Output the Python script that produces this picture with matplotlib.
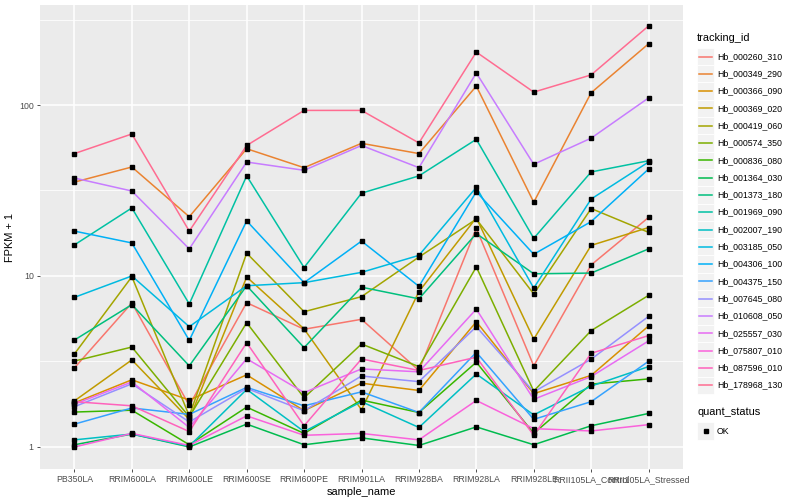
import matplotlib
matplotlib.use("Agg")
import matplotlib.pyplot as plt
from matplotlib.patches import Rectangle
from matplotlib.lines import Line2D
import numpy as np

plt.rcParams['font.family'] = ['Liberation Sans', 'DejaVu Sans']

samples = ["PB350LA", "RRIM600LA", "RRIM600LE", "RRIM600SE", "RRIM600PE", "RRIM901LA",
           "RRIM928BA", "RRIM928LA", "RRIM928LE", "RRII105LA_Control", "RRII105LA_Stressed"]

tracking_ids = ["Hb_000260_310", "Hb_000349_290", "Hb_000366_090", "Hb_000369_020",
                "Hb_000419_060", "Hb_000574_350", "Hb_000836_080", "Hb_001364_030",
                "Hb_001373_180", "Hb_001969_090", "Hb_002007_190", "Hb_003185_050",
                "Hb_004306_100", "Hb_004375_150", "Hb_007645_080", "Hb_010608_050",
                "Hb_025557_030", "Hb_075807_010", "Hb_087596_010", "Hb_178968_130"]

s000260_310 = [2.9, 6.95, 1.75, 6.98, 4.88, 5.58, 2.8, 19.0, 2.98, 11.6, 22.0]
s000349_290 = [35.4, 43.4, 22.2, 55.5, 43.0, 59.7, 52.0, 129, 27.0, 118, 228]
s000366_090 = [1.81, 2.47, 1.88, 2.64, 1.63, 2.36, 2.14, 5.4, 2.05, 2.62, 5.1]
s000369_020 = [1.86, 3.23, 1.45, 9.86, 4.9, 1.65, 8.1, 21.9, 4.27, 15.1, 19.2]
s000419_060 = [3.5, 9.9, 1.52, 13.6, 6.18, 7.57, 12.9, 21.5, 7.85, 24.8, 18.0]
s000574_350 = [3.18, 3.84, 1.5, 5.33, 1.94, 4.0, 2.95, 11.3, 2.12, 4.79, 7.7]
s000836_080 = [1.6, 1.64, 1.03, 1.71, 1.2, 1.88, 1.59, 3.13, 1.2, 2.33, 2.5]
s001364_030 = [1.03, 1.19, 1.0, 1.36, 1.03, 1.13, 1.02, 1.31, 1.03, 1.33, 1.57]
s001373_180 = [4.22, 6.8, 2.98, 8.77, 3.81, 8.6, 7.35, 17.7, 10.3, 10.4, 14.4]
s001969_090 = [15.2, 25.0, 6.86, 38.5, 11.2, 30.5, 38.5, 63, 16.6, 40.6, 47.2]
s002007_190 = [1.1, 1.19, 1.01, 2.17, 1.23, 1.84, 1.3, 2.67, 1.54, 2.27, 2.95]
s003185_050 = [7.5, 10.0, 5.05, 8.77, 9.14, 10.5, 13.2, 33.0, 8.5, 28.2, 46.4]
s004306_100 = [18.3, 15.6, 4.2, 21.0, 9.14, 16.0, 8.7, 31.1, 13.4, 20.8, 42.2]
s004375_150 = [1.36, 1.69, 1.55, 2.23, 1.74, 2.1, 1.59, 3.58, 1.45, 1.84, 3.17]
s007645_080 = [1.72, 2.34, 1.4, 2.2, 1.63, 2.6, 2.41, 5.05, 2.1, 3.26, 5.8]
s010608_050 = [37.4, 31.4, 14.4, 46.4, 41.5, 58.0, 43.0, 154, 45.0, 64, 110]
s025557_030 = [1.78, 2.4, 1.3, 3.28, 2.08, 2.86, 2.75, 6.4, 1.9, 2.58, 4.17]
s075807_010 = [1.0, 1.2, 1.02, 1.52, 1.17, 1.2, 1.1, 1.87, 1.28, 1.24, 1.35]
s087596_010 = [1.84, 1.74, 1.23, 4.07, 1.33, 3.27, 2.8, 3.35, 1.17, 3.53, 4.48]
s178968_130 = [52, 67.7, 18.3, 58, 93, 93, 60, 204, 119, 150, 290]

series = [s000260_310, s000349_290, s000366_090, s000369_020, s000419_060, s000574_350,
          s000836_080, s001364_030, s001373_180, s001969_090, s002007_190, s003185_050,
          s004306_100, s004375_150, s007645_080, s010608_050, s025557_030, s075807_010,
          s087596_010, s178968_130]

colors = ["#F8766D", "#EA8331", "#D89000", "#C09B00", "#A3A500", "#7CAE00", "#39B600",
          "#00BB4E", "#00BF7D", "#00C1A3", "#00BFC4", "#00BAE0", "#00B0F6", "#35A2FF",
          "#9590FF", "#C77CFF", "#E76BF3", "#FA62DB", "#FF62BC", "#FF6C91"]

W, H = 800, 500
fig = plt.figure(figsize=(8, 5), dpi=100)
L, R, T, B = 40, 683, 5, 469
ax = fig.add_axes([L / W, 1 - B / H, (R - L) / W, (B - T) / H])
ax.set_facecolor("#EBEBEB")
for s in ax.spines.values():
    s.set_visible(False)

x = np.arange(len(samples))
for vals, c in zip(series, colors):
    ax.plot(x, vals, color=c, lw=1.1, zorder=3)
for vals in series:
    ax.plot(x, vals, linestyle="none", marker="s", ms=2.8, color="black", zorder=4)

ax.set_yscale("log")
ax.set_ylim(10 ** -0.129, 10 ** 2.585)
ax.set_xlim(-0.6, len(samples) - 0.4)
ax.set_yticks([1, 10, 100])
ax.set_yticklabels(["1", "10", "100"])
ax.yaxis.set_minor_locator(matplotlib.ticker.FixedLocator([10 ** 0.5, 10 ** 1.5, 10 ** 2.5]))
ax.yaxis.set_minor_formatter(matplotlib.ticker.NullFormatter())
ax.set_xticks(x)
ax.set_xticklabels(samples)
ax.grid(which="major", color="white", lw=1.1, zorder=0)
ax.grid(which="minor", axis="y", color="white", lw=0.55, zorder=0)
ax.set_axisbelow(True)
ax.tick_params(axis="both", which="major", length=2.5, width=0.6, color="#333333",
               labelsize=6.3, labelcolor="#4D4D4D", pad=2)
ax.tick_params(axis="y", which="minor", length=0)
ax.set_xlabel("sample_name", fontsize=7.9, color="black", labelpad=2)
ax.set_ylabel("FPKM + 1", fontsize=7.9, color="black", labelpad=3)

# legend
def fx(px):
    return px / W

def fy(py):
    return 1 - py / H

fig.text(fx(697), fy(38), "tracking_id", fontsize=7.9, va="center", ha="left")
y0, dy = 56.5, 17.3
kw = 17.3
for i, (tid, c) in enumerate(zip(tracking_ids, colors)):
    yc = y0 + i * dy
    fig.patches.append(Rectangle((fx(697), fy(yc + kw / 2)), kw / W, kw / H,
                                 transform=fig.transFigure, facecolor="#F2F2F2",
                                 edgecolor="white", lw=0.6))
    fig.lines.append(Line2D([fx(699), fx(712)], [fy(yc), fy(yc)], transform=fig.transFigure,
                            color=c, lw=1.1))
    fig.text(fx(717), fy(yc), tid, fontsize=6.3, va="center", ha="left", color="black")

fig.text(fx(697), fy(412), "quant_status", fontsize=7.9, va="center", ha="left")
yc = 431
fig.patches.append(Rectangle((fx(697), fy(yc + kw / 2)), kw / W, kw / H,
                             transform=fig.transFigure, facecolor="#F2F2F2",
                             edgecolor="white", lw=0.6))
fig.lines.append(Line2D([fx(705.5)], [fy(yc)], transform=fig.transFigure, marker="s",
                        ms=2.8, color="black", linestyle="none"))
fig.text(fx(717), fy(yc), "OK", fontsize=6.3, va="center", ha="left", color="black")

fig.savefig("out.png", dpi=100)
